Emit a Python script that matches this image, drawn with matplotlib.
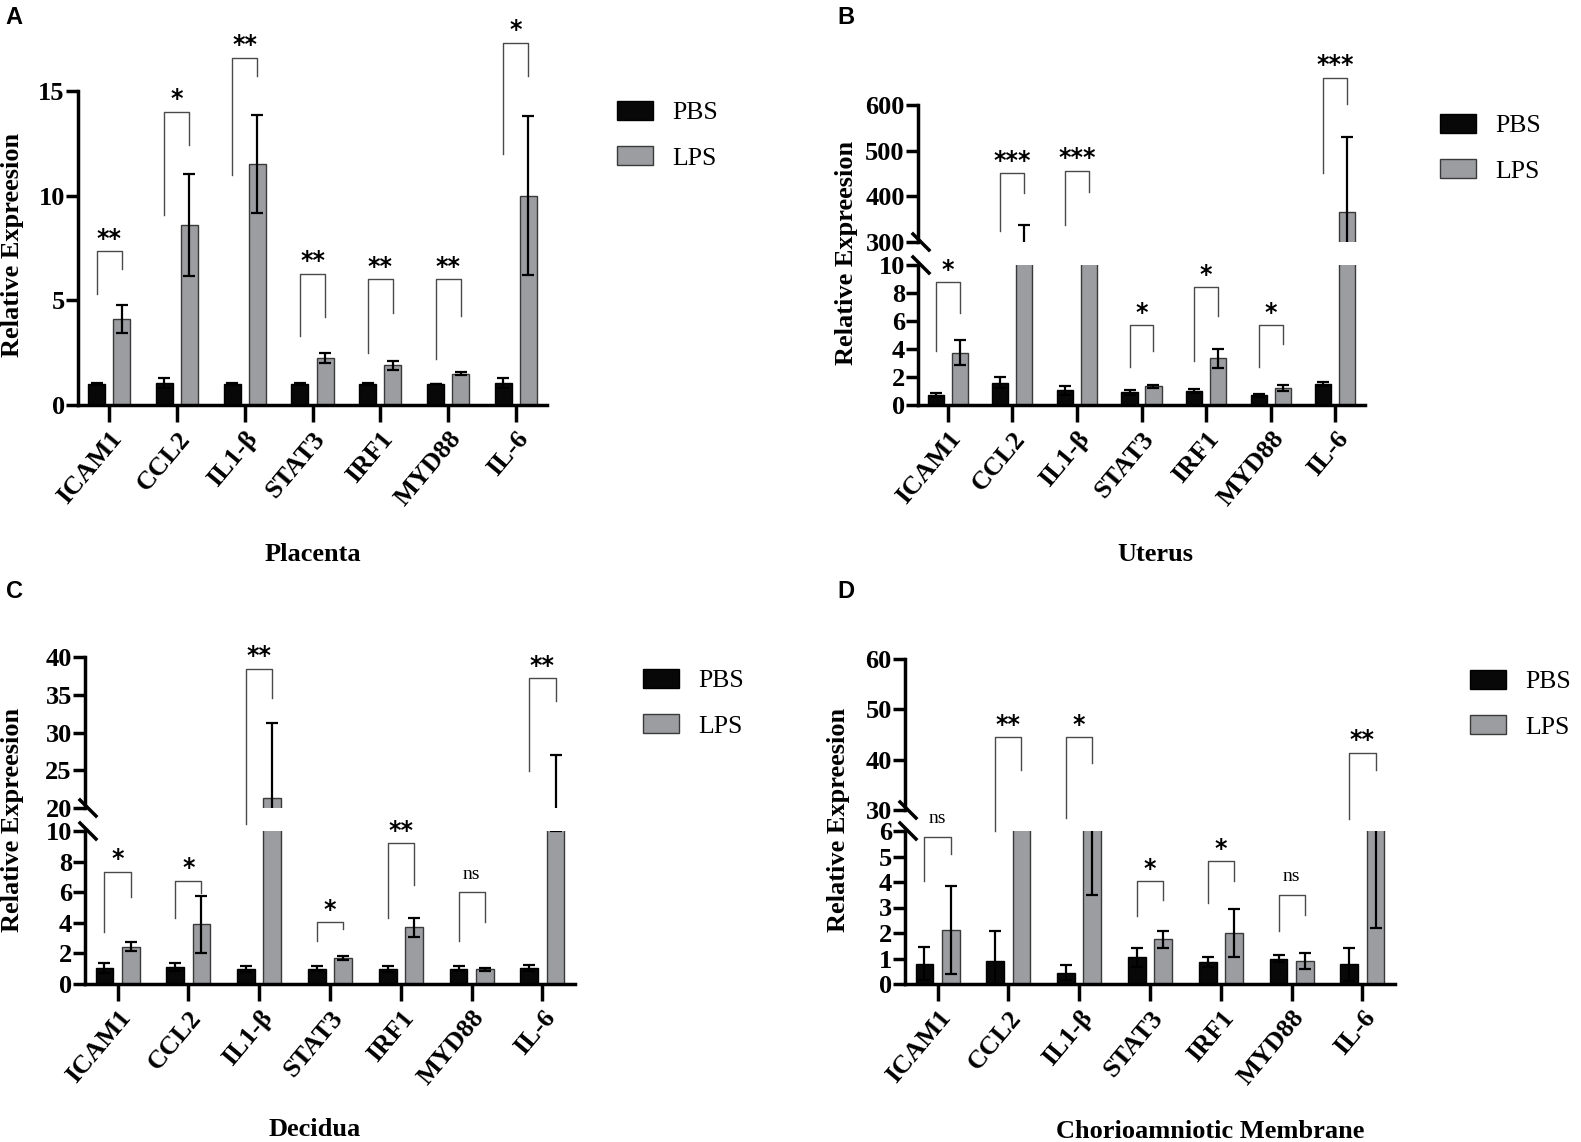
import matplotlib
matplotlib.use('Agg')
import matplotlib.pyplot as plt
from matplotlib.lines import Line2D
from matplotlib.patches import Patch
import numpy as np

plt.rcParams['font.family'] = ['Liberation Serif', 'DejaVu Serif']
plt.rcParams['font.weight'] = 'bold'

W, H = 1581, 1142

genes = ['ICAM1', 'CCL2', 'IL1-β', 'STAT3', 'IRF1', 'MYD88', 'IL-6']

# A - Placenta
plac_pbs = [1.0, 1.05, 1.0, 1.0, 1.0, 1.0, 1.05]
plac_pbs_err = [0.05, 0.22, 0.06, 0.06, 0.05, 0.02, 0.25]
plac_lps = [4.1, 8.6, 11.5, 2.25, 1.9, 1.5, 10.0]
plac_lps_err = [0.68, 2.42, 2.35, 0.22, 0.22, 0.08, 3.8]
plac_sig = ['**', '*', '**', '**', '**', '**', '*']
plac_br_top = [7.35, 14.0, 16.6, 6.27, 6.0, 6.0, 17.3]
plac_br_left = [5.3, 9.07, 11.0, 3.3, 2.5, 2.2, 12.0]
plac_br_right = [6.5, 12.4, 15.7, 4.2, 4.4, 4.25, 15.7]

# B - Uterus
ute_pbs = [0.7, 1.6, 1.05, 0.9, 1.0, 0.7, 1.5]
ute_pbs_err = [0.15, 0.4, 0.3, 0.15, 0.15, 0.1, 0.17]
ute_lps = [3.75, 240, 150, 1.35, 3.35, 1.2, 365]
ute_lps_err = [0.9, 97, 60, 0.1, 0.68, 0.2, 166]
ute_sig = ['*', '***', '***', '*', '*', '*', '***']
ute_br_top = [8.77, 450.7, 455.7, 5.71, 8.41, 5.71, 660]
ute_br_left = [3.86, 324, 337, 2.68, 3.15, 2.68, 450]
ute_br_right = [6.6, 407.6, 409.7, 3.86, 6.35, 4.38, 602]

# C - Decidua
dec_pbs = [1.05, 1.1, 1.0, 1.0, 1.0, 1.0, 1.05]
dec_pbs_err = [0.3, 0.28, 0.2, 0.15, 0.2, 0.15, 0.2]
dec_lps = [2.45, 3.9, 21.3, 1.7, 3.7, 0.95, 18.5]
dec_lps_err = [0.28, 1.85, 10.0, 0.15, 0.6, 0.1, 8.5]
dec_sig = ['*', '*', '**', '*', '**', 'ns', '**']
dec_br_top = [7.33, 10.35, 38.47, 4.03, 9.19, 6.0, 37.16]
dec_br_left = [3.37, 5.4, 17.9, 2.78, 4.31, 2.78, 24.9]
dec_br_right = [5.69, 8.69, 34.6, 3.59, 6.5, 4.03, 34.2]

# D - Chorioamniotic Membrane
cho_pbs = [0.8, 0.92, 0.45, 1.05, 0.85, 1.0, 0.78]
cho_pbs_err = [0.64, 1.14, 0.28, 0.37, 0.2, 0.14, 0.65]
cho_lps = [2.12, 15, 15, 1.75, 2.0, 0.9, 14]
cho_lps_err = [1.74, 5, 11.5, 0.32, 0.93, 0.3, 11.8]
cho_sig = ['ns', '**', '*', '*', '*', 'ns', '**']
cho_br_top = [5.77, 44.5, 44.5, 4.03, 4.82, 3.5, 41.4]
cho_br_left = [4.03, 25.8, 28.4, 2.68, 3.18, 2.06, 28.3]
cho_br_right = [5.1, 38.0, 39.4, 3.31, 4.03, 2.69, 38.0]

PBS_C = '#080808'
LPS_C = '#9c9da1'
x = np.arange(len(genes))
OFF, BW = 0.185, 0.25

fig = plt.figure(figsize=(W / 100, H / 100), dpi=100)


def px_rect(x0, x1, ytop, ybot):
    return [x0 / W, 1 - ybot / H, (x1 - x0) / W, (ybot - ytop) / H]


def style_axis(ax, bottom):
    for s in ['top', 'right']:
        ax.spines[s].set_visible(False)
    ax.spines['left'].set_linewidth(2.5)
    if bottom:
        ax.spines['bottom'].set_linewidth(2.5)
        ax.tick_params(axis='x', length=12, width=2.5, labelsize=19, pad=4)
        ax.set_xticks(x)
        ax.set_xticklabels(genes, rotation=50, ha='right', rotation_mode='anchor')
    else:
        ax.spines['bottom'].set_visible(False)
        ax.tick_params(axis='x', bottom=False, labelbottom=False)
    ax.tick_params(axis='y', length=9, width=2.5, labelsize=19, pad=0.5)
    ax.set_xlim(-0.46, 6.46)
    ax.patch.set_alpha(0)


def draw_bars(ax, pbs, pbs_err, lps, lps_err):
    ax.bar(x - OFF, pbs, BW, color=PBS_C, edgecolor='black', lw=1)
    ax.bar(x + OFF, lps, BW, color=LPS_C, edgecolor='#3a3a3a', lw=1)
    ekw = dict(fmt='none', ecolor='black', elinewidth=1.6, capsize=4.5, capthick=1.6)
    ax.errorbar(x - OFF, pbs, yerr=pbs_err, **ekw)
    ax.errorbar(x + OFF, lps, yerr=lps_err, **ekw)


def draw_brackets(ax_low, ax_high, split, sig, top, left, right):
    for i in range(len(sig)):
        ax = ax_high if (ax_high is not None and top[i] > split) else ax_low
        ax.plot([x[i] - OFF, x[i] - OFF, x[i] + OFF, x[i] + OFF],
                [left[i], top[i], top[i], right[i]],
                color='#4a4a4a', lw=1.0, clip_on=False)
        if sig[i] == 'ns':
            ax.annotate('ns', (x[i], top[i]), xytext=(0, 13), textcoords='offset points',
                        ha='center', va='center', fontsize=14, fontweight='normal',
                        annotation_clip=False)
        else:
            ax.annotate(sig[i], (x[i], top[i]), xytext=(0, 9), textcoords='offset points',
                        ha='center', va='center', fontsize=17, fontweight='bold',
                        family='DejaVu Sans', annotation_clip=False)


def break_marks(ax_low, ax_high):
    p_low = ax_low.get_position()
    p_high = ax_high.get_position()
    dx, dy = 8 / W, 8 / H
    for yy in [p_low.y1, p_high.y0]:
        fig.add_artist(Line2D([p_low.x0 - dx + 3 / W, p_low.x0 + dx + 3 / W], [yy + dy, yy - dy],
                              transform=fig.transFigure, color='black', lw=2.5))


def legend_at(xp, yp):
    handles = [Patch(facecolor=PBS_C, edgecolor='black', label='PBS'),
               Patch(facecolor=LPS_C, edgecolor='#3a3a3a', label='LPS')]
    fig.legend(handles=handles, loc='upper left', bbox_to_anchor=(xp / W, 1 - yp / H),
               bbox_transform=fig.transFigure, frameon=False,
               prop=dict(family='Liberation Serif', weight='normal', size=18.5),
               handlelength=1.4, handleheight=0.75, handletextpad=0.75,
               labelspacing=0.85, borderpad=0, borderaxespad=0)


def ylabel_at(xp, yp):
    fig.text(xp / W, 1 - yp / H, 'Relative Expreesion', rotation=90, ha='center',
             va='center', fontsize=19, fontweight='bold')


# ---- A: Placenta ----
axA = fig.add_axes(px_rect(78, 547, 91, 405))
draw_bars(axA, plac_pbs, plac_pbs_err, plac_lps, plac_lps_err)
axA.set_ylim(0, 15)
axA.set_yticks([0, 5, 10, 15])
style_axis(axA, True)
draw_brackets(axA, None, 15, plac_sig, plac_br_top, plac_br_left, plac_br_right)
ylabel_at(13, 245)
legend_at(617, 101)
fig.text(313 / W, 1 - 555 / H, 'Placenta', ha='center', va='center', fontsize=19)

# ---- B: Uterus ----
axB1 = fig.add_axes(px_rect(918, 1365, 265, 405))
axB2 = fig.add_axes(px_rect(918, 1365, 105, 242))
for ax in (axB1, axB2):
    draw_bars(ax, ute_pbs, ute_pbs_err, ute_lps, ute_lps_err)
axB1.set_ylim(0, 10)
axB1.set_yticks([0, 2, 4, 6, 8, 10])
axB2.set_ylim(300, 600)
axB2.set_yticks([300, 400, 500, 600])
style_axis(axB1, True)
style_axis(axB2, False)
break_marks(axB1, axB2)
draw_brackets(axB1, axB2, 10, ute_sig, ute_br_top, ute_br_left, ute_br_right)
ylabel_at(846, 253)
legend_at(1440, 114)
fig.text(1155 / W, 1 - 555 / H, 'Uterus', ha='center', va='center', fontsize=19)

# ---- C: Decidua ----
axC1 = fig.add_axes(px_rect(85, 575, 831, 984))
axC2 = fig.add_axes(px_rect(85, 575, 657, 808))
for ax in (axC1, axC2):
    draw_bars(ax, dec_pbs, dec_pbs_err, dec_lps, dec_lps_err)
axC1.set_ylim(0, 10)
axC1.set_yticks([0, 2, 4, 6, 8, 10])
axC2.set_ylim(20, 40)
axC2.set_yticks([20, 25, 30, 35, 40])
style_axis(axC1, True)
style_axis(axC2, False)
break_marks(axC1, axC2)
draw_brackets(axC1, axC2, 10, dec_sig, dec_br_top, dec_br_left, dec_br_right)
ylabel_at(13, 820)
legend_at(643, 669)
fig.text(315 / W, 1 - 1129 / H, 'Decidua', ha='center', va='center', fontsize=19)

# ---- D: Chorioamniotic Membrane ----
axD1 = fig.add_axes(px_rect(905, 1395, 831, 984))
axD2 = fig.add_axes(px_rect(905, 1395, 659, 810))
for ax in (axD1, axD2):
    draw_bars(ax, cho_pbs, cho_pbs_err, cho_lps, cho_lps_err)
axD1.set_ylim(0, 6)
axD1.set_yticks([0, 1, 2, 3, 4, 5, 6])
axD2.set_ylim(30, 60)
axD2.set_yticks([30, 40, 50, 60])
style_axis(axD1, True)
style_axis(axD2, False)
break_marks(axD1, axD2)
draw_brackets(axD1, axD2, 6, cho_sig, cho_br_top, cho_br_left, cho_br_right)
ylabel_at(838, 820)
legend_at(1470, 670)
fig.text(1210 / W, 1 - 1132 / H, 'Chorioamniotic Membrane', ha='center', va='center', fontsize=19)

# panel letters
for lab, xp, yp in [('A', 14, 18), ('B', 846, 18), ('C', 14, 592), ('D', 846, 592)]:
    fig.text(xp / W, 1 - yp / H, lab, ha='center', va='center', fontsize=17,
             family='Liberation Sans', fontweight='bold')

fig.savefig('out.png', dpi=100)
